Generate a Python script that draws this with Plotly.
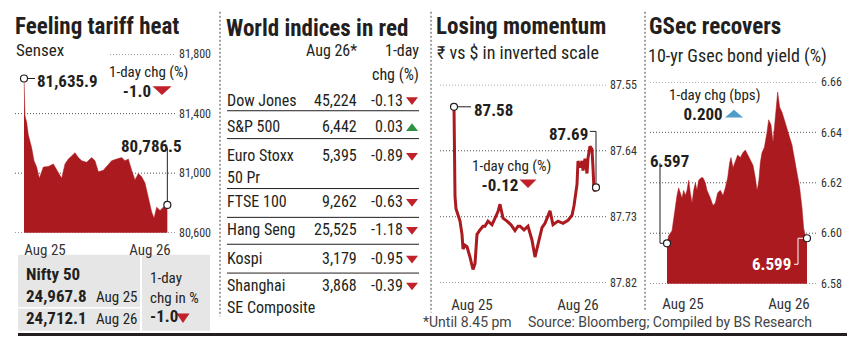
import plotly.graph_objects as go

W, H = 860, 355
def px(x): return x / W
def py(y): return 1 - y / H

FONT = "Liberation Sans Narrow, Arial Narrow, Roboto Condensed, Roboto, sans-serif"
FOOT_FONT = "Roboto, sans-serif"
INK = "#231f20"
RED = "#aa1a1f"
TRI_RED = "#c0212b"
GREEN = "#2e9245"
BLUE = "#4f9cc9"
GRID = "#555555"
BOX = "#e6e6e6"
NB = "\u00a0"

# ---------------- data ----------------
day_labels = ["Aug 25", "Aug 26"]

# Sensex intraday (session-time index)
sensex_t = [0, 3, 8, 13, 23, 30, 38, 46, 58, 73, 88, 98, 113, 123, 133, 143, 153, 163,
            173, 188, 203, 213, 223, 238, 253, 263, 278, 293, 303, 313, 323, 333, 343,
            353, 363, 373, 383, 390, 398, 408, 418, 430]
sensex_vals = [81635.9, 81385, 81342, 81256, 81170, 81084, 81041, 80966, 81041, 81045,
               81062, 81020, 80966, 81062, 81095, 81116, 81138, 81105, 81084, 81073,
               81105, 81084, 81009, 81020, 81062, 81084, 81095, 81105, 81084, 81095,
               81020, 80955, 80998, 80976, 80934, 80826, 80740, 80697, 80772, 80750,
               80772, 80786.5]
sensex_ticks = [81800, 81400, 81000, 80600]
sensex_xticks = [63, 378]
sensex_chg = "-1.0"

nifty_vals = ["24,967.8", "24,712.1"]
nifty_chg = "-1.0"

# World indices
idx_names = [["Dow Jones"], ["S&P 500"], ["Euro Stoxx", "50 Pr"], ["FTSE 100"],
             ["Hang Seng"], ["Kospi"], ["Shanghai", "SE Composite"]]
idx_values = ["45,224", "6,442", "5,395", "9,262", "25,525", "3,179", "3,868"]
idx_chg = [-0.13, 0.03, -0.89, -0.63, -1.18, -0.95, -0.39]

# Rupee vs dollar (inverted)
rupee_t = [0, 2, 3, 6, 12, 18, 24, 27, 33, 39, 48, 57, 63, 69, 78, 87, 93, 102, 114, 123,
           132, 138, 147, 159, 171, 183, 192, 198, 210, 222, 234, 243, 252, 264, 273, 288,
           297, 312, 327, 342, 354, 360, 369, 372, 378, 384, 387, 393, 399, 402, 408, 414,
           417, 420, 423, 426]
rupee_vals = [87.58, 87.650, 87.702, 87.719, 87.728, 87.736, 87.754, 87.774, 87.769, 87.771,
              87.785, 87.802, 87.794, 87.754, 87.748, 87.743, 87.743, 87.736, 87.741, 87.732,
              87.723, 87.713, 87.732, 87.736, 87.741, 87.749, 87.743, 87.743, 87.748, 87.743,
              87.762, 87.785, 87.768, 87.745, 87.739, 87.722, 87.741, 87.736, 87.739, 87.735,
              87.728, 87.715, 87.686, 87.654, 87.663, 87.654, 87.667, 87.651, 87.671, 87.650,
              87.634, 87.638, 87.663, 87.693, 87.695, 87.69]
rupee_ticks = [87.55, 87.64, 87.73, 87.82]
rupee_xticks = [54, 372]
rupee_chg = "-0.12"

# 10-yr GSec yield
gsec_t = [0, 5, 15, 20, 25, 30, 35, 40, 45, 50, 55, 60, 65, 70, 75, 80, 85, 90, 95, 102,
          108, 115, 120, 130, 138, 145, 152, 160, 168, 175, 182, 188, 192, 198, 205, 212,
          220, 228, 235, 242, 250, 258, 265, 270, 275, 280, 285, 292, 300, 305, 312, 318,
          323, 328, 332, 338, 345, 352, 360, 368, 375, 382, 390, 398, 405, 410, 415, 420]
gsec_vals = [6.596, 6.599, 6.601, 6.606, 6.611, 6.615, 6.618, 6.616, 6.614, 6.617, 6.615,
             6.617, 6.621, 6.616, 6.612, 6.617, 6.620, 6.617, 6.621, 6.622, 6.622, 6.620,
             6.617, 6.614, 6.611, 6.612, 6.616, 6.617, 6.615, 6.618, 6.622, 6.628, 6.630,
             6.626, 6.629, 6.631, 6.630, 6.632, 6.633, 6.631, 6.629, 6.627, 6.622, 6.617,
             6.620, 6.628, 6.632, 6.634, 6.640, 6.645, 6.643, 6.636, 6.643, 6.652, 6.656,
             6.650, 6.648, 6.645, 6.641, 6.638, 6.635, 6.630, 6.624, 6.618, 6.610, 6.602,
             6.599, 6.598]
gsec_ticks = [6.66, 6.64, 6.62, 6.60, 6.58]
gsec_xticks = [48, 366]
gsec_chg = "0.200"

# ---------------- figure ----------------
fig = go.Figure()
annotations = []
shapes = []

def txt(x, y, s, size, anchor="left", bold=False, color=INK, font=FONT, align=None):
    annotations.append(dict(
        x=px(x), y=py(y), xref="paper", yref="paper", text=("<b>%s</b>" % s) if bold else s,
        showarrow=False, xanchor=anchor, yanchor="middle", align=align or anchor,
        font=dict(size=size, color=color, family=font)))

def tri(cx, cy, w, h, up, color):
    if up:
        path = "M %f,%f L %f,%f L %f,%f Z" % (px(cx - w / 2), py(cy + h / 2), px(cx + w / 2),
                                             py(cy + h / 2), px(cx), py(cy - h / 2))
    else:
        path = "M %f,%f L %f,%f L %f,%f Z" % (px(cx - w / 2), py(cy - h / 2), px(cx + w / 2),
                                             py(cy - h / 2), px(cx), py(cy + h / 2))
    shapes.append(dict(type="path", path=path, xref="paper", yref="paper",
                       fillcolor=color, line=dict(width=0), layer="above"))

def hline(x0, x1, y, color=INK, width=1, dash="solid"):
    shapes.append(dict(type="line", xref="paper", yref="paper", x0=px(x0), x1=px(x1),
                       y0=py(y), y1=py(y), line=dict(color=color, width=width, dash=dash)))

def vline(x, y0, y1, color="#444", width=1, dash="solid"):
    shapes.append(dict(type="line", xref="paper", yref="paper", x0=px(x), x1=px(x),
                       y0=py(y0), y1=py(y1), line=dict(color=color, width=width, dash=dash)))

def gridlines(values, yref, x0, x1, first_x0=None):
    for i, v in enumerate(values):
        xs = first_x0 if (i == 0 and first_x0 is not None) else x0
        shapes.append(dict(type="line", xref="paper", yref=yref, x0=px(xs), x1=px(x1),
                           y0=v, y1=v, layer="below",
                           line=dict(color=GRID, width=1, dash="1px,2px")))

def marker_trace(xs, ys, xa, ya):
    return go.Scatter(x=xs, y=ys, mode="markers", xaxis=xa, yaxis=ya, hoverinfo="skip",
                      marker=dict(size=7, color="white", line=dict(color=INK, width=1.2)))

def chg_block(cx, cy, head, val, size_h=15, size_v=17):
    # two-line "1-day chg" block, second line padded to leave room for the triangle
    annotations.append(dict(
        x=px(cx), y=py(cy), xref="paper", yref="paper", showarrow=False,
        xanchor="center", yanchor="middle", align="center",
        text="%s<br><span style='font-size:%dpx'><b>%s</b>%s</span>" % (head, size_v, val, NB * 6),
        font=dict(size=size_h, color=INK, family=FONT)))

# ---- Panel 1: Sensex ----
fig.add_trace(go.Scatter(x=sensex_t, y=sensex_vals, mode="lines", fill="tozeroy",
                         fillcolor=RED, line=dict(color=RED, width=0.5),
                         xaxis="x", yaxis="y", hoverinfo="skip"))
fig.add_trace(marker_trace([sensex_t[0], sensex_t[-1]], [sensex_vals[0], sensex_vals[-1]], "x", "y"))
gridlines(sensex_ticks, "y", 15, 176, first_x0=110)

txt(13, 20, "Feeling tariff heat", 23, bold=True)
txt(14, 45, "Sensex", 17)
chg_block(148, 78, "1-day chg (%)", sensex_chg)
tri(162, 87, 19, 9, False, TRI_RED)
txt(35, 77, "{:,.1f}".format(sensex_vals[0]), 17, bold=True)
txt(184, 145, "{:,.1f}".format(sensex_vals[-1]), 17, anchor="right", bold=True)
shapes.append(dict(type="line", xref="x", yref="y", xsizemode="pixel", xanchor=sensex_t[0],
                   x0=4, x1=11, y0=sensex_vals[0], y1=sensex_vals[0],
                   line=dict(color=INK, width=1)))
shapes.append(dict(type="line", xref="x", yref="y", ysizemode="pixel", yanchor=sensex_vals[-1],
                   x0=sensex_t[-1], x1=sensex_t[-1], y0=4, y1=57,
                   line=dict(color=INK, width=1)))

# Nifty box
shapes.append(dict(type="rect", xref="paper", yref="paper", x0=px(18), x1=px(140),
                   y0=py(337), y1=py(258), fillcolor=BOX, line=dict(width=0), layer="below"))
shapes.append(dict(type="rect", xref="paper", yref="paper", x0=px(142), x1=px(210),
                   y0=py(337), y1=py(258), fillcolor=BOX, line=dict(width=0), layer="below"))
hline(18, 140, 313, color="white", width=1.5)
txt(24, 278, "Nifty 50", 17, bold=True)
txt(24, 301, nifty_vals[0], 17, bold=True)
txt(94, 302, day_labels[0], 15)
txt(24, 324, nifty_vals[1], 17, bold=True)
txt(94, 325, day_labels[1], 15)
annotations.append(dict(x=px(148), y=py(302), xref="paper", yref="paper", showarrow=False,
                        xanchor="left", yanchor="middle", align="left",
                        text="1-day<br>chg in %%<br><span style='font-size:17px'><b>%s</b></span>" % nifty_chg,
                        font=dict(size=15, color=INK, family=FONT)))
tri(183, 324, 13, 10, False, TRI_RED)

# ---- Panel 2: World indices ----
txt(224, 22, "World indices in red", 23, bold=True)
txt(359, 45, "Aug 26*", 16, anchor="right")
txt(421, 45, "1-day", 16, anchor="right")
txt(421, 70, "chg (%)", 16, anchor="right")
row_y = [97, 124, 155, 203, 232, 262, 290]
sep_y = [108, 137, 189, 219, 247, 277]
for i, (nm, val, ch) in enumerate(zip(idx_names, idx_values, idx_chg)):
    yy = row_y[i]
    txt(225, yy, nm[0], 16)
    if len(nm) > 1:
        txt(225, yy + 23, nm[1], 16)
    txt(359, yy, val, 16, anchor="right")
    txt(405, yy, "{:.2f}".format(ch), 16, anchor="right")
    tri(412, yy + 1, 12, 8, ch > 0, GREEN if ch > 0 else TRI_RED)
for s in sep_y:
    hline(227, 419, s, color=INK, width=1)

# ---- Panel 3: Rupee ----
fig.add_trace(go.Scatter(x=rupee_t, y=rupee_vals, mode="lines", line=dict(color=RED, width=3),
                         xaxis="x2", yaxis="y2", hoverinfo="skip"))
fig.add_trace(marker_trace([rupee_t[0], rupee_t[-1]], [rupee_vals[0], rupee_vals[-1]], "x2", "y2"))
gridlines(rupee_ticks, "y2", 440, 607)
txt(434, 20, "Losing momentum", 23, bold=True)
txt(435, 47, "\u20b9 vs $ in inverted scale", 18)
chg_block(511, 176, "1-day chg (%)", rupee_chg)
tri(528, 184, 17, 9, False, TRI_RED)
txt(472, 107, "{:.2f}".format(rupee_vals[0]), 17, bold=True)
txt(590, 132, "{:.2f}".format(rupee_vals[-1]), 17, anchor="right", bold=True)
shapes.append(dict(type="line", xref="x2", yref="y2", xsizemode="pixel", xanchor=rupee_t[0],
                   x0=4, x1=17, y0=rupee_vals[0], y1=rupee_vals[0],
                   line=dict(color=INK, width=1)))
shapes.append(dict(type="path", xref="x2", yref="y2", xsizemode="pixel", ysizemode="pixel",
                   xanchor=rupee_t[-1], yanchor=rupee_vals[-1],
                   path="M 0,4 L 0,56 L -6,56", line=dict(color=INK, width=1)))

# ---- Panel 4: GSec ----
fig.add_trace(go.Scatter(x=gsec_t, y=gsec_vals, mode="lines", fill="tozeroy",
                         fillcolor=RED, line=dict(color=RED, width=0.5),
                         xaxis="x3", yaxis="y3", hoverinfo="skip"))
fig.add_trace(marker_trace([gsec_t[0], gsec_t[-1]], [gsec_vals[0], gsec_vals[-1]], "x3", "y3"))
gridlines(gsec_ticks, "y3", 650, 818)
txt(647, 20, "GSec recovers", 23, bold=True)
txt(646, 51, "10-yr Gsec bond yield (%)", 18)
chg_block(714, 102, "1-day chg (bps)", gsec_chg)
tri(734, 111, 18, 8, True, BLUE)
txt(648, 160, "6.597", 17, bold=True)
txt(793, 268, "6.599", 17, anchor="right", bold=True, color="white")
shapes.append(dict(type="path", xref="x3", yref="y3", xsizemode="pixel", ysizemode="pixel",
                   xanchor=gsec_t[0], yanchor=gsec_vals[0],
                   path="M -4,0 L -7,0 L -7,80", line=dict(color=INK, width=1)))
shapes.append(dict(type="path", xref="x3", yref="y3", xsizemode="pixel", ysizemode="pixel",
                   xanchor=gsec_t[-1], yanchor=gsec_vals[-1], layer="above",
                   path="M -4,0 L -9,0 L -9,-26 L -13,-26", line=dict(color="white", width=1)))

# ---- frame ----
for xv, ye in [(220, 322), (431, 318), (645, 316)]:
    vline(xv, 5, ye, color="#444", width=1, dash="2px,2px")
hline(18, 847, 341, color=INK, width=3)
txt(421, 328, "*Until 8.45 pm", 14, color="#444", font=FOOT_FONT)
txt(526, 328, "Source: Bloomberg; Compiled by BS Research", 14, color="#444", font=FOOT_FONT)

tick_font = dict(family=FONT, size=12, color="#333")
day_font = dict(family=FONT, size=15, color="#333")

def xaxis(dom, rng, tv, anchor, standoff):
    return dict(domain=[px(dom[0]), px(dom[1])], range=rng, anchor=anchor, showgrid=False,
                zeroline=False, showline=False, ticks="", tickvals=tv, ticktext=day_labels,
                tickfont=day_font, ticklabelstandoff=standoff, fixedrange=True)

def yaxis(dom, rng, tv, anchor, fmt):
    return dict(domain=[py(dom[1]), py(dom[0])], range=rng, anchor=anchor, side="right",
                showgrid=False, zeroline=False, showline=False, ticks="", tickvals=tv,
                tickformat=fmt, tickfont=tick_font, ticklabelstandoff=2, fixedrange=True)

fig.update_layout(
    width=W, height=H, margin=dict(l=0, r=0, t=0, b=0),
    paper_bgcolor="white", plot_bgcolor="rgba(0,0,0,0)", showlegend=False,
    font=dict(family=FONT, color=INK),
    xaxis=xaxis((15, 176), [-27, 456], sensex_xticks, "y", 6),
    yaxis=yaxis((49, 235), [80600, 81800], sensex_ticks, "x", ","),
    xaxis2=xaxis((440, 607), [-42, 459], rupee_xticks, "y2", 11),
    yaxis2=yaxis((81, 287), [87.82, 87.55], rupee_ticks, "x2", ".2f"),
    xaxis3=xaxis((650, 818), [-51, 453], gsec_xticks, "y3", 9),
    yaxis3=yaxis((78, 288), [6.58, 6.66], gsec_ticks, "x3", ".2f"),
    annotations=annotations, shapes=shapes,
)

fig.write_html("out.html", config={"displayModeBar": False},
               post_script="document.body.style.margin='0';document.body.style.padding='0';")
